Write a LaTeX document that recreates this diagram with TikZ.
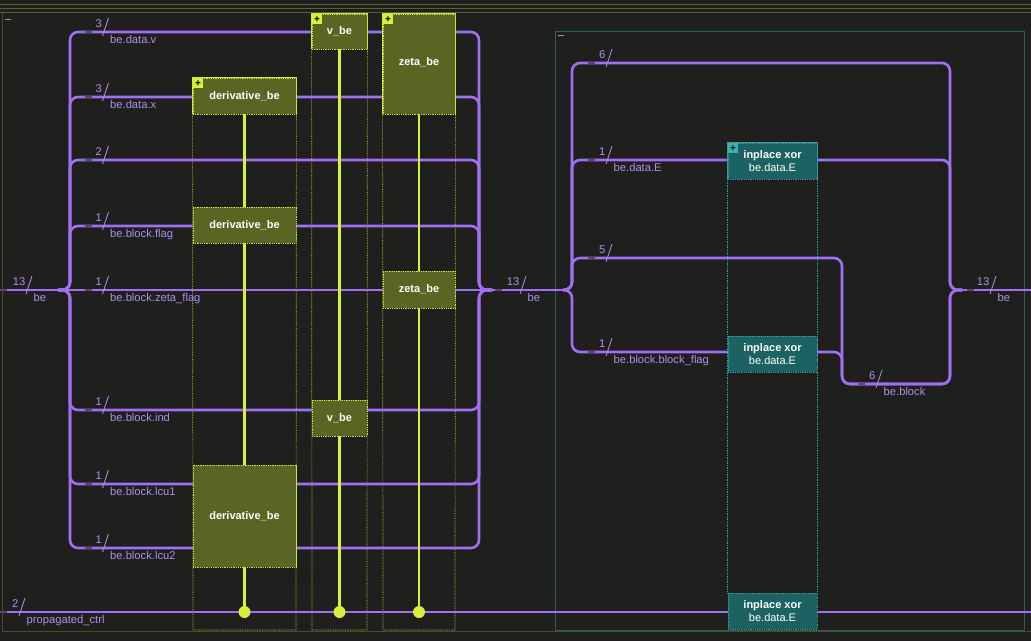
\documentclass[tikz,border=0pt]{standalone}
\usepackage{fontspec}
\setmainfont{Liberation Sans}
\definecolor{bg}{HTML}{1F1F1D}
\definecolor{wire}{HTML}{9F70F0}
\definecolor{wtxt}{HTML}{AE90E8}
\definecolor{wdim}{HTML}{564670}
\definecolor{ctrl}{HTML}{D6F03C}
\definecolor{ofill}{HTML}{596522}
\definecolor{oline}{HTML}{CDE640}
\definecolor{tfill}{HTML}{1D6262}
\definecolor{tline}{HTML}{3A9C9C}
\definecolor{tmark}{HTML}{3FB0B0}
\definecolor{frameol}{HTML}{5A6034}
\definecolor{frametl}{HTML}{2A5E5A}
\tikzset{
  wirestyle/.style={draw=wire, line width=2.6pt, rounded corners=8pt},
  ctrlline/.style={draw=ctrl, line width=2.4pt},
  obox/.style={rectangle, fill=ofill, draw=oline, densely dotted, line width=0.8pt, text=white,
    font=\bfseries\fontsize{11}{13}\selectfont, inner sep=0pt},
  tbox/.style={rectangle, fill=tfill, draw=tline, densely dotted, line width=0.8pt, text=white,
    font=\fontsize{11}{13}\selectfont, align=center, inner sep=0pt, minimum width=89pt, minimum height=36pt},
  ocol/.style={draw=oline, densely dotted, line width=0.7pt},
  tcol/.style={draw=tline, densely dotted, line width=0.7pt},
  osolid/.style={draw=oline, line width=0.9pt},
  tsolid/.style={draw=tline, line width=0.9pt},
  omark/.style={rectangle, fill=ctrl, text=black, font=\bfseries\fontsize{10}{10}\selectfont, minimum size=10.5pt, inner sep=0pt},
  tmarkst/.style={rectangle, fill=tmark, text=black!80!teal, font=\bfseries\fontsize{10}{10}\selectfont, minimum size=10pt, inner sep=0pt},
  dotc/.style={circle, fill=ctrl, minimum size=12pt, inner sep=0pt},
  wlabel/.style={text=wtxt, font=\fontsize{11.2}{13}\selectfont, inner sep=0pt},
  minus/.style={draw=gray!80, line width=1.2pt}
}
\newcommand{\wlab}[5]{%
  \draw[wdim, line width=2.6pt] (#5,#2) -- ++(7,0);
  \draw[wtxt, line width=0.8pt] (#1,#2+4) -- (#1+6,#2-14);
  \node[wlabel, anchor=base east] at (#1-0.5,#2-5) {#3};
  \node[wlabel, anchor=base west] at (#1+7.5,#2+11.5) {#4};}
\begin{document}
\begin{tikzpicture}[x=1pt,y=-1pt]
\useasboundingbox (0,0) rectangle (1031,641);
\fill[bg] (0,0) rectangle (1031,641);
% frames
\draw[frameol, line width=1pt] (0,4.5) -- (1031,4.5);
\draw[frameol, line width=1pt] (0,8.5) -- (1031,8.5);
\draw[frameol, line width=1pt] (0,12.5) -- (1031,12.5);
\draw[frameol!70!bg, line width=1pt] (2.5,13) -- (2.5,631) -- (1031,631);
\draw[minus] (5,19.5) -- (11,19.5);
\draw[frametl, line width=1pt] (555,31) rectangle (1024,630);
\draw[minus] (558,35.5) -- (564,35.5);

% box positions
\path
  node[obox, minimum width=103pt, minimum height=36pt] (d1) at (244.5,96) {}
  node[obox, minimum width=103pt, minimum height=36pt] (d2) at (244.5,225) {}
  node[obox, minimum width=103pt, minimum height=102pt] (d3) at (244.5,516) {}
  node[obox, minimum width=55pt, minimum height=35pt] (v1) at (339.5,31.5) {}
  node[obox, minimum width=55pt, minimum height=36pt] (v2) at (339.5,418) {}
  node[obox, minimum width=72pt, minimum height=100pt] (z1) at (419,64) {}
  node[obox, minimum width=72pt, minimum height=37pt] (z2) at (419,289.5) {}
  node[tbox] (x1) at (772.5,161) {}
  node[tbox] (x2) at (772.5,354) {}
  node[tbox] (x3) at (772.5,611) {};

% column outlines
\draw[ocol] (d1.south west) -- (193,630) -- (296,630) -- (d1.south east);
\draw[ocol] (v1.south west) -- (312,630) -- (367,630) -- (v1.south east);
\draw[ocol] (z1.south west) -- (383,630) -- (455,630) -- (z1.south east);
\draw[tcol] (x1.south west) -- (x3.north west);
\draw[tcol] (x1.south east) -- (x3.north east);

% wires: left split / right merge
\foreach \y in {32,97,160,226,410,484,548}{
  \draw[wirestyle] (58,290) -- (70,290) -- (70,\y) -- (479,\y) -- (479,290) -- (492,290);
}
\draw[wirestyle] (0,290) -- (566,290);
\foreach \y in {63,160}{
  \draw[wirestyle] (563,290) -- (572,290) -- (572,\y) -- (950,\y) -- (950,290) -- (962,290);
}
\foreach \y in {258,352}{
  \draw[wirestyle] (563,290) -- (572,290) -- (572,\y) -- (842,\y) -- (842,384) -- (950,384) -- (950,290) -- (962,290);
}
\draw[wirestyle] (955,290) -- (1031,290);
\draw[wirestyle] (0,612) -- (1031,612);

% control dots
\node[dotc] (c1) at (244.5,612) {};
\node[dotc] (c2) at (339.5,612) {};
\node[dotc] (c3) at (419,612) {};
\draw[ctrlline] (d1.south) -- (c1.center);
\draw[ctrlline] (v1.south) -- (c2.center);
\draw[ctrlline] (z1.south) -- (c3.center);

% boxes drawn on top
\node[obox, minimum width=103pt, minimum height=36pt] at (d1) {derivative\_be};
\node[obox, minimum width=103pt, minimum height=36pt] at (d2) {derivative\_be};
\node[obox, minimum width=103pt, minimum height=102pt] at (d3) {derivative\_be};
\node[obox, minimum width=55pt, minimum height=35pt] at (v1) {v\_be};
\node[obox, minimum width=55pt, minimum height=36pt] at (v2) {v\_be};
\node[obox, minimum width=72pt, minimum height=100pt] at (z1) {};
\node[obox, minimum width=72pt, minimum height=37pt] at (z2) {zeta\_be};
\node[text=white, font=\bfseries\fontsize{11}{13}\selectfont] at ([yshift=2pt]z1.center) {zeta\_be};
\node[tbox] at (x1) {\textbf{inplace xor}\\be.data.E};
\node[tbox] at (x2) {\textbf{inplace xor}\\be.data.E};
\node[tbox] at (x3) {\textbf{inplace xor}\\be.data.E};
\draw[osolid] (d1.south west) -- (d1.north west) -- (d1.north east) -- (d1.south east);
\draw[osolid] (v1.south west) -- (v1.north west) -- (v1.north east) -- (v1.south east);
\draw[osolid] (z1.south west) -- (z1.north west) -- (z1.north east) -- (z1.south east);
\draw[osolid] (d3.north east) -- (d3.south east);
\draw[tsolid] (x1.south west) -- (x1.north west) -- (x1.north east) -- (x1.south east);
\node[omark] at ([xshift=5.5pt,yshift=-5.5pt]d1.north west) {+};
\node[omark] at ([xshift=5.5pt,yshift=-5.5pt]v1.north west) {+};
\node[omark] at ([xshift=5.5pt,yshift=-5.5pt]z1.north west) {+};
\node[tmarkst] at ([xshift=5.5pt,yshift=-5.5pt]x1.north west) {+};

% wire labels
\wlab{102.5}{32}{3}{be.data.v}{85}
\wlab{102.5}{97}{3}{be.data.x}{85}
\wlab{102.5}{160}{2}{}{85}
\wlab{102.5}{226}{1}{be.block.flag}{85}
\wlab{102.5}{290}{1}{be.block.zeta\_flag}{85}
\wlab{102.5}{410}{1}{be.block.ind}{85}
\wlab{102.5}{484}{1}{be.block.lcu1}{85}
\wlab{102.5}{548}{1}{be.block.lcu2}{85}
\wlab{26}{290}{13}{be}{0}
\wlab{520}{290}{13}{be}{495}
\wlab{606}{63}{6}{}{588}
\wlab{606}{160}{1}{be.data.E}{588}
\wlab{606}{258}{5}{}{588}
\wlab{606}{352}{1}{be.block.block\_flag}{588}
\wlab{876}{384}{6}{be.block}{858}
\wlab{990}{290}{13}{be}{967}
\wlab{19}{612}{2}{propagated\_ctrl}{0}
\end{tikzpicture}
\end{document}
